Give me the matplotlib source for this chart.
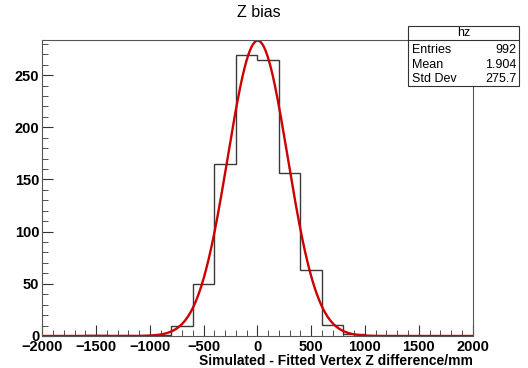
import numpy as np
import matplotlib.pyplot as plt

# histograma hz: bordes de bins y cuentas
edges = np.arange(-2000, 2001, 200)
counts = [0, 0, 1, 0, 0, 1, 10, 50, 165, 269, 264, 156, 63, 11, 2, 0, 0, 0, 0, 0]

# parametros del ajuste gaussiano
fit_amp = 283.0
fit_mean = 3.0
fit_sigma = 278.0

# caja de estadisticas
stat_names = ["Entries", "Mean", "Std Dev"]
stat_values = ["992", "1.904", "275.7"]

plt.rcParams['font.family'] = ['Liberation Sans', 'DejaVu Sans']

fig = plt.figure(figsize=(5.28, 3.68), dpi=100)
ax = fig.add_axes([0.080, 0.087, 0.815, 0.804])

ax.stairs(counts, edges, color='#3a3a3a', lw=1.0)

xf = np.linspace(-2000, 2000, 800)
yf = fit_amp * np.exp(-0.5 * ((xf - fit_mean) / fit_sigma) ** 2)
ax.plot(xf, yf, color='#cc0000', lw=1.7)

ax.set_xlim(-2000, 2000)
ax.set_ylim(0, 283.5)
ax.set_xticks(np.arange(-2000, 2001, 500))
ax.set_xticks(np.arange(-2000, 2001, 100), minor=True)
ax.set_yticks(np.arange(0, 251, 50))
ax.set_yticks(np.arange(0, 281, 10), minor=True)
ax.tick_params(which='both', direction='in', top=False, right=False,
               labelsize=10.5, color='#333333')
ax.tick_params(axis='x', pad=3)
ax.tick_params(axis='y', pad=2)
ax.tick_params(which='major', length=8)
ax.tick_params(which='minor', length=4)
for lab in ax.get_xticklabels() + ax.get_yticklabels():
    lab.set_fontweight('bold')
for s in ax.spines.values():
    s.set_color('#555555')

ax.set_xlabel('Simulated - Fitted Vertex Z difference/mm', fontsize=10,
              fontweight='bold', loc='right', labelpad=0)
fig.text(0.49, 0.965, 'Z bias', ha='center', va='center', fontsize=11.5)

# caja de estadisticas
bx0, bx1 = 408 / 528, 519 / 528
by1, by0 = 1 - 26 / 368, 1 - 86 / 368
fig.patches.append(plt.Rectangle((bx0, by0), bx1 - bx0, by1 - by0, transform=fig.transFigure,
                                 facecolor='white', edgecolor='#333333', lw=0.8, zorder=5))
hy = 1 - 40 / 368
fig.lines.append(plt.Line2D([bx0, bx1], [hy, hy], transform=fig.transFigure, color='#333333', lw=0.8, zorder=6))
fig.text((bx0 + bx1) / 2, 1 - 33 / 368, 'hz', ha='center', va='center', fontsize=9, zorder=7)
for i, (n, v) in enumerate(zip(stat_names, stat_values)):
    yy = 1 - (50 + i * 14.5) / 368
    fig.text(bx0 + 0.007, yy, n, ha='left', va='center', fontsize=9, zorder=7)
    fig.text(bx1 - 0.005, yy, v, ha='right', va='center', fontsize=9, zorder=7)

fig.savefig('out.png', dpi=100)
